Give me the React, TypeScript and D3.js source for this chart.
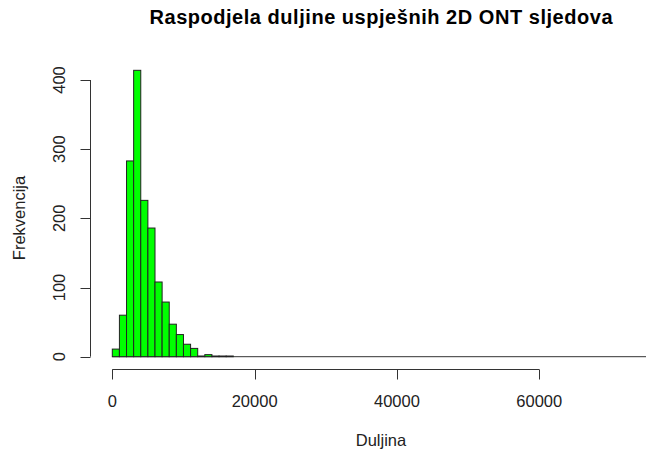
import React from "react";
import * as d3 from "d3";

const binStarts = [0, 1000, 2000, 3000, 4000, 5000, 6000, 7000, 8000, 9000, 10000, 11000, 12000, 13000, 14000, 15000, 16000];
const counts = [11, 60, 283, 414, 226, 186, 108, 79, 47, 32, 18, 12, 1, 3, 1, 1, 1];
const binWidth = 1000;
const maxLength = 80000;
const xTicks = [0, 20000, 40000, 60000];
const yTicks = [0, 100, 200, 300, 400];
const title = "Raspodjela duljine uspješnih 2D ONT sljedova";
const xLabel = "Duljina";
const yLabel = "Frekvencija";

export default function App() {
  const W = 646, H = 457;
  const x = d3.scaleLinear().domain([0, 60000]).range([112.3, 539.3]);
  const y = d3.scaleLinear().domain([0, 400]).range([356.7, 80]);
  const font = "Arial, 'Liberation Sans', sans-serif";
  return (
    <svg width={W} height={H} style={{ position: "absolute", left: 0, top: 0, background: "#fff" }}>
      <text x={381} y={24} textAnchor="middle" fontFamily={font} fontWeight="bold" fontSize={20}
        textLength={463} lengthAdjust="spacing" fill="#000">{title}</text>
      <line x1={x(0)} x2={Math.min(x(maxLength), W)} y1={y(0)} y2={y(0)} stroke="#333" strokeWidth={1} />
      {binStarts.map((s, i) => (
        <rect key={i} x={x(s)} y={y(counts[i])} width={x(s + binWidth) - x(s)} height={y(0) - y(counts[i])}
          fill="#00ff00" stroke="#222" strokeWidth={1} />
      ))}
      <line x1={x(xTicks[0])} x2={x(xTicks[xTicks.length - 1])} y1={369.5} y2={369.5} stroke="#333" />
      {xTicks.map(t => (
        <g key={t}>
          <line x1={Math.round(x(t)) + 0.5} x2={Math.round(x(t)) + 0.5} y1={369.5} y2={379.5} stroke="#333" />
          <text x={x(t)} y={407} textAnchor="middle" fontFamily={font} fontSize={16.5} fill="#222">{t}</text>
        </g>
      ))}
      <text x={381} y={446} textAnchor="middle" fontFamily={font} fontSize={16.5} fill="#222">{xLabel}</text>
      <line x1={90.5} x2={90.5} y1={y(0)} y2={y(400)} stroke="#333" />
      {yTicks.map(t => (
        <g key={t}>
          <line x1={80.5} x2={90.5} y1={Math.round(y(t)) + 0.5} y2={Math.round(y(t)) + 0.5} stroke="#333" />
          <text transform={`translate(65,${y(t)}) rotate(-90)`} textAnchor="middle" fontFamily={font} fontSize={16.5} fill="#222">{t}</text>
        </g>
      ))}
      <text transform={`translate(25,218) rotate(-90)`} textAnchor="middle" fontFamily={font} fontSize={16.5} fill="#222">{yLabel}</text>
    </svg>
  );
}
